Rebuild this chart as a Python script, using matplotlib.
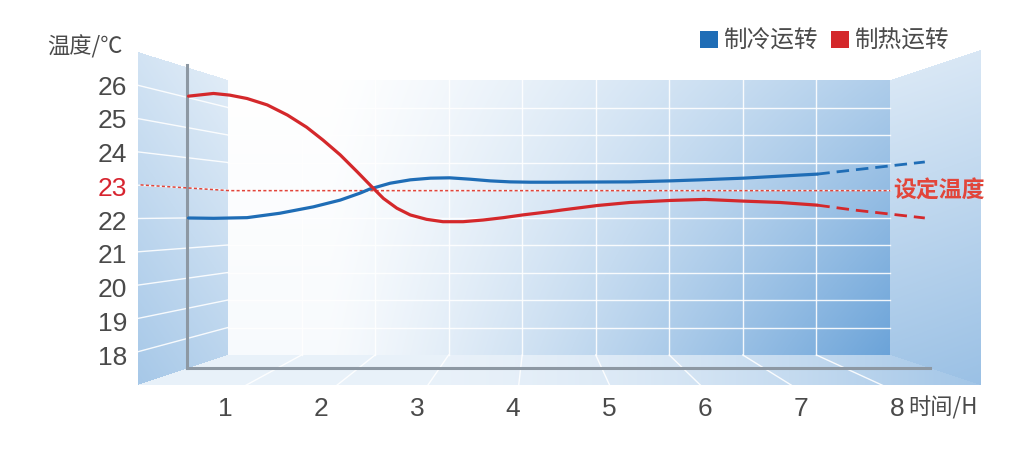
import numpy as np
import matplotlib
matplotlib.use('Agg')
import matplotlib.pyplot as plt
from matplotlib.patches import Patch
from matplotlib.path import Path

# ---------------- data ----------------
hours = [1, 2, 3, 4, 5, 6, 7, 8]
temp_ticks = [18, 19, 20, 21, 22, 23, 24, 25, 26]
series_names = ['制冷运转', '制热运转']
set_temp_label = '设定温度'
y_title = '温度/℃'
x_title = '时间/H'

cool_h = [0.62, 0.88, 1.23, 1.57, 1.92, 2.20, 2.41, 2.51, 2.72, 2.93, 3.14,
          3.34, 3.55, 3.76, 3.97, 4.18, 4.39, 5.22, 5.64, 5.95, 6.40, 7.17]
cool_t = [22.06, 22.05, 22.07, 22.20, 22.39, 22.59, 22.80, 22.92, 23.09, 23.19,
          23.24, 23.25, 23.21, 23.16, 23.13, 23.12, 23.12, 23.13, 23.16, 23.19,
          23.24, 23.36]
cool_fc_h = [7.17, 7.54, 8.29]
cool_fc_t = [23.36, 23.48, 23.72]

heat_h = [0.62, 0.88, 1.05, 1.23, 1.44, 1.65, 1.85, 2.02, 2.20, 2.38, 2.51,
          2.65, 2.79, 2.93, 3.10, 3.27, 3.48, 3.69, 3.90, 4.10, 4.39, 4.52,
          4.88, 5.22, 5.64, 6.00, 6.40, 6.78, 7.17]
heat_t = [25.67, 25.75, 25.70, 25.60, 25.41, 25.11, 24.75, 24.37, 23.93, 23.42,
          23.04, 22.64, 22.35, 22.15, 22.02, 21.95, 21.95, 22.00, 22.07, 22.15,
          22.25, 22.30, 22.43, 22.52, 22.58, 22.61, 22.56, 22.52, 22.44]
heat_fc_h = [7.17, 7.54, 8.29]
heat_fc_t = [22.44, 22.30, 22.06]

set_h = [0.12, 1.05, 7.93]
set_t = [23.04, 22.87, 22.87]

# ---------------- style ----------------
W, H = 1031, 468
BLUE = '#1f6db6'
RED = '#d4282b'
SET_RED = '#e2453a'
GRAY = '#4a4a4a'
NUM_FONT = ['Liberation Sans', 'DejaVu Sans']
CJK_FONT = ['Noto Sans CJK SC', 'DejaVu Sans']

fig = plt.figure(figsize=(W / 100, H / 100), dpi=100)
fig.patch.set_facecolor('white')

# ---------------- decorative 3D room background ----------------
bg = fig.add_axes([0, 0, 1, 1], zorder=0)
bg.set_xlim(0, W)
bg.set_ylim(H, 0)
bg.axis('off')

X, Y = np.meshgrid(np.arange(W) + 0.5, np.arange(H) + 0.5)
pts = np.column_stack([X.ravel(), Y.ravel()])

left_poly = [(138, 52), (228, 80), (228, 355), (138, 385)]
back_poly = [(228, 80), (890, 80), (890, 355), (228, 355)]
right_poly = [(890, 80), (981, 50), (981, 385), (890, 355)]
floor_poly = [(138, 385), (228, 355), (890, 355), (981, 385)]


def mask_of(poly):
    return Path(poly).contains_points(pts).reshape(X.shape)


m_left = mask_of(left_poly)
m_back = mask_of(back_poly)
m_right = mask_of(right_poly)
m_floor = mask_of(floor_poly)

u = np.clip((X - 330) / 560, 0, 1)
v = np.clip((Y - 80) / 275, 0, 1)
w_back = u ** 1.2 * (0.55 + 0.4 * v) + 0.05 * v
w_left = 0.18 + 0.30 * (Y - 50) / 335 + 0.12 * (228 - X) / 90
w_right = 0.22 + 0.42 * (Y - 50) / 335 + 0.04 * (X - 890) / 90
w_floor = 0.15 + 0.48 * np.clip((X - 430) / 550, 0, 1) ** 1.6

wgt = np.zeros(X.shape)
alpha = np.zeros(X.shape)
for m, w in [(m_back, w_back), (m_left, w_left), (m_right, w_right), (m_floor, w_floor)]:
    wgt[m] = w[m]
    alpha[m] = 1.0
wgt = np.clip(wgt, 0, 1)
B = np.array([0.42, 0.64, 0.85])
img = np.ones((H, W, 4))
for c in range(3):
    img[..., c] = 1 - wgt * (1 - B[c])
img[..., 3] = alpha
bg.imshow(img, extent=(0, W, H, 0), interpolation='bilinear', zorder=0)

gl = dict(color='white', lw=1.0, alpha=0.9, zorder=1)
for k in range(1, 10):
    yb = 80 + 27.5 * k
    bg.plot([228, 890], [yb, yb], **gl)
    bg.plot([138, 228], [52 + 33.3 * k, yb], **gl)
for k in range(1, 9):
    xb = 228 + 73.55 * k
    bg.plot([xb, xb], [80, 355], **gl)
    bg.plot([xb, 537 + (xb - 537) * 1.242], [355, 386], **gl)

# ---------------- data axes ----------------
ax = fig.add_axes([187 / W, 1 - 368 / H, 743 / W, 303 / H], zorder=2)
ax.set_facecolor('none')
ax.set_xlim(0.604, 8.344)
ax.set_ylim(17.615, 26.593)
for s in ['top', 'right']:
    ax.spines[s].set_visible(False)
for s in ['left', 'bottom']:
    ax.spines[s].set_color('#8d98a3')
    ax.spines[s].set_linewidth(2.2)

ax.set_xticks(hours)
ax.set_xticklabels([str(h) for h in hours], fontsize=19, color=GRAY, family=NUM_FONT)
ax.set_yticks(temp_ticks)
ax.set_yticklabels([str(t) for t in temp_ticks], fontsize=19, color=GRAY, family=NUM_FONT)
for lbl in ax.get_yticklabels():
    if lbl.get_text() == '23':
        lbl.set_color('#d7242f')
ax.tick_params(axis='x', length=0, pad=21)
ax.tick_params(axis='y', length=0, pad=43)

ax.plot(set_h, set_t, color=SET_RED, lw=1.1, ls=(0, (2.0, 1.5)), clip_on=False, zorder=3)

line_kw = dict(lw=2.3, solid_capstyle='round', solid_joinstyle='round', zorder=4, clip_on=False)
ax.plot(cool_h, cool_t, color=BLUE, **line_kw)
ax.plot(heat_h, heat_t, color=RED, **line_kw)
dash_kw = dict(lw=2.0, ls=(0, (4.5, 2.5)), zorder=4, clip_on=False)
ax.plot(cool_fc_h, cool_fc_t, color=BLUE, **dash_kw)
ax.plot(heat_fc_h, heat_fc_t, color=RED, **dash_kw)

ax.text(7.96, 22.87, set_temp_label, color=SET_RED, fontsize=16.5, fontweight='bold',
        family=CJK_FONT, ha='left', va='center', clip_on=False)

fig.text(123 / W, 1 - 47 / H, y_title, fontsize=16, color=GRAY, family=CJK_FONT,
         ha='right', va='center')
fig.text(908 / W, 1 - 408 / H, x_title, fontsize=16, color=GRAY, family=CJK_FONT,
         ha='left', va='center')

handles = [Patch(facecolor=BLUE, edgecolor='none'), Patch(facecolor=RED, edgecolor='none')]
ax.legend(handles, series_names, ncol=2, loc='upper left',
          bbox_to_anchor=(700 / W, 1 - 30 / H), bbox_transform=fig.transFigure,
          frameon=False, prop={'family': CJK_FONT, 'size': 17}, labelcolor=GRAY,
          handlelength=0.76, handleheight=0.76, handletextpad=0.22,
          columnspacing=0.55, borderpad=0, borderaxespad=0)

fig.savefig('out.png', dpi=100)
